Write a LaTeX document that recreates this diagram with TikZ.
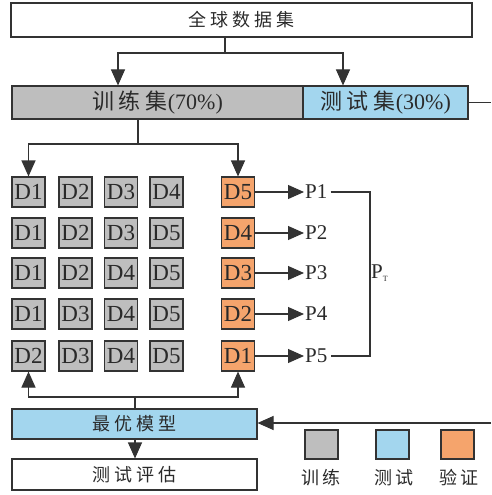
\documentclass[tikz,border=0pt]{standalone}
\usepackage{fontspec}
\setmainfont{Liberation Serif}
\newfontfamily\cjk[LetterSpace=22]{Noto Sans CJK SC}
\usetikzlibrary{arrows.meta,positioning}
\definecolor{cgray}{HTML}{BEBEBE}
\definecolor{cblue}{HTML}{A3D6EE}
\definecolor{corange}{HTML}{F5A46C}
\definecolor{cline}{HTML}{333333}
\definecolor{ctext}{HTML}{2A2A2A}
\tikzset{
  box/.style={draw=cline,line width=1.1pt,inner sep=0pt,anchor=center,text=ctext},
  dbox/.style={box,minimum width=33pt,minimum height=30pt,font=\fontsize{23}{23}\selectfont},
  tbox/.style={dbox,fill=cgray},
  vbox/.style={dbox,fill=corange},
  lbox/.style={box,minimum width=33pt,minimum height=29pt},
  cjklabel/.style={inner sep=0pt,text=ctext,font=\fontsize{18}{18}\selectfont\cjk},
  plabel/.style={inner sep=1pt,anchor=west,text=ctext,font=\fontsize{21}{21}\selectfont},
  conn/.style={draw=cline,line width=1.1pt},
  arr/.style={conn,-{Triangle[length=16pt,width=14pt]}},
}
\begin{document}
\begin{tikzpicture}[x=1pt,y=-1pt]
\useasboundingbox (0,0) rectangle (491,495);
% top
\node[box,minimum width=461pt,minimum height=34pt,font=\fontsize{18}{18}\selectfont\cjk] (all) at (241.5,20) {全球数据集};
\node[box,fill=cgray,minimum width=291pt,minimum height=33pt,font=\fontsize{22}{22}\selectfont] (train) at (157.5,102.5) {{\cjk 训练集}(70\%)};
\node[box,fill=cblue,minimum width=165pt,minimum height=33pt,font=\fontsize{22}{22}\selectfont] (test) at (385.5,102.5) {{\cjk 测试集}(30\%)};
% arrows from top
\coordinate (s1) at (225,53);
\draw[conn] (all.south -| s1) -- (s1);
\draw[arr] (s1) -| (train.north -| 118,0);
\draw[arr] (s1) -| (test.north -| 343,0);
% right side line
\coordinate (r1) at (491,102.5);
\draw[conn] (test.east) -- (r1);
% grid
\foreach \r/\y/\a/\b/\c/\d/\v in {1/192/D1/D2/D3/D4/D5, 2/233/D1/D2/D3/D5/D4, 3/273/D1/D2/D4/D5/D3, 4/314/D1/D3/D4/D5/D2, 5/356/D2/D3/D4/D5/D1}{
  \node[tbox] (g\r a) at (28.5,\y) {\a};
  \node[tbox] (g\r b) at (75.5,\y) {\b};
  \node[tbox] (g\r c) at (121,\y) {\c};
  \node[tbox] (g\r d) at (166.5,\y) {\d};
  \node[vbox] (v\r) at (238,\y) {\v};
  \node[plabel] (p\r) at (304,\y) {P\r};
  \draw[arr] (v\r.east) -- (p\r.west);
}
% arrows from train into grid
\coordinate (s2) at (138,144);
\draw[conn] (train.south -| s2) -- (s2);
\draw[arr] (s2) -| (g1a.north);
\draw[arr] (s2) -| (v1.north);
% bracket
\coordinate (bx) at (368,0);
\draw[conn] ([xshift=2pt]p1.east) -- ([xshift=2pt]p1.east -| bx) -- ([xshift=2pt]p5.east -| bx) -- ([xshift=2pt]p5.east);
\node[inner sep=0pt,anchor=west,text=ctext,font=\fontsize{21}{21}\selectfont] (pt) at (371,273) {P\raisebox{-3pt}{\fontsize{8}{8}\selectfont T}};
% best model
\node[box,fill=cblue,minimum width=245pt,minimum height=30pt,font=\fontsize{18}{18}\selectfont\cjk] (best) at (134.5,424) {最优模型};
\node[box,minimum width=245pt,minimum height=31pt,font=\fontsize{18}{18}\selectfont\cjk] (eval) at (134.5,474.5) {测试评估};
\coordinate (s3) at (135,397);
\draw[conn] (best.north -| s3) -- (s3);
\draw[arr] (s3) -| (g5a.south);
\draw[arr] (s3) -| (v5.south);
\draw[arr] (best.south -| s3) -- (eval.north -| s3);
\coordinate (r2) at (491,423);
\draw[arr] (r2) -- (best.east |- r2);
% legend
\node[lbox,fill=cgray] (lg) at (321.5,444.5) {};
\node[lbox,fill=cblue] (lb) at (392.5,444.5) {};
\node[lbox,fill=corange] (lo) at (457.5,444.5) {};
\node[cjklabel] (lgt) at (321,478) {训练};
\node[cjklabel] (lbt) at (394,478) {测试};
\node[cjklabel] (lot) at (459,478) {验证};
\end{tikzpicture}
\end{document}
